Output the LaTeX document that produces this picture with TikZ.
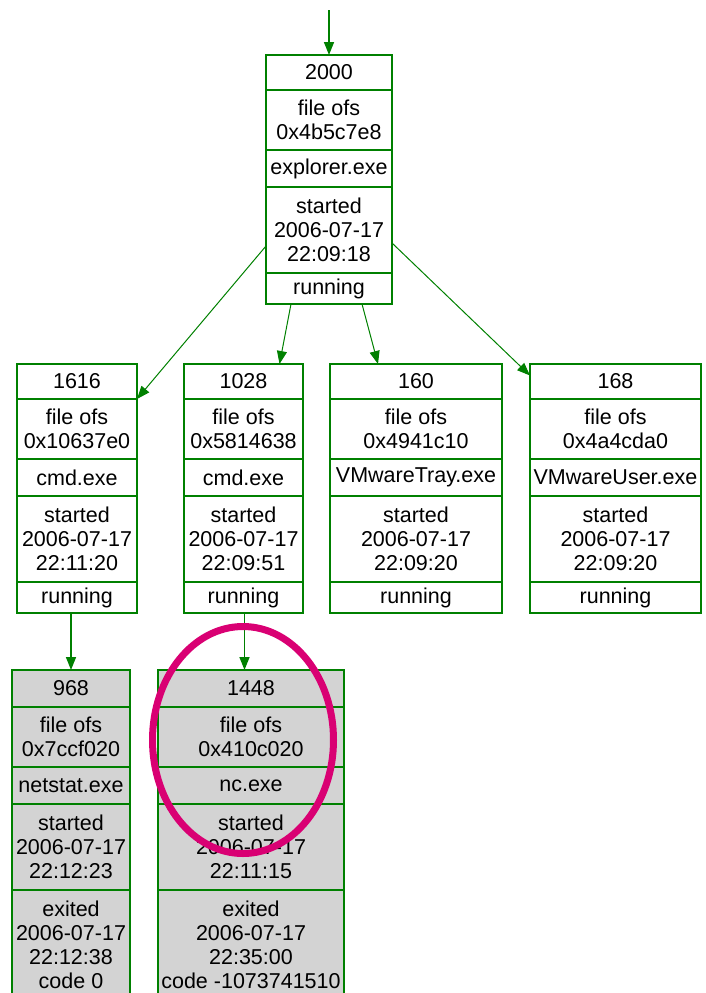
\documentclass[tikz,border=0pt]{standalone}
\usepackage{fontspec}
\setmainfont{Liberation Sans}
\usetikzlibrary{arrows.meta,positioning,shapes.geometric}
\definecolor{procgreen}{RGB}{0,128,0}
\definecolor{exitgray}{RGB}{211,211,211}
\definecolor{markpink}{RGB}{217,0,115}

\begin{document}
\begin{tikzpicture}[
  x=1pt, y=-1pt,
  procfield/.style={draw=procgreen, line width=1.5pt, outer sep=0pt, inner sep=1pt, align=center,
    minimum height=#1, font=\fontsize{21.5}{23.8}\selectfont},
  procfield/.default=35pt,
  exitedproc/.style={every node/.append style={fill=exitgray}},
  link/.style={-{Triangle[length=13pt, width=10pt]}, draw=procgreen, line width=1pt},
  hilite/.style={ellipse, draw=markpink, line width=7pt, minimum width=181pt, minimum height=227pt}
]
  \useasboundingbox (0,0) rectangle (706,993);
  \clip (0,0) rectangle (706,993);

  \coordinate (entry) at (329,10);

  % explorer
  \begin{scope}[every node/.append style={minimum width=126pt}]
    \node[procfield] (p2000) at (329,72.5) {2000};
    \node[procfield=60pt, below=0pt of p2000] (p2000o) {file ofs\\0x4b5c7e8};
    \node[procfield=37pt, below=0pt of p2000o] (p2000x) {explorer.exe};
    \node[procfield=86pt, below=0pt of p2000x] (p2000t) {started\\2006-07-17\\22:09:18};
    \node[procfield=31pt, below=0pt of p2000t] (p2000r) {running};
  \end{scope}

  % children of explorer
  \begin{scope}[every node/.append style={minimum width=120pt}]
    \node[procfield] (p1616) at (77,381.5) {1616};
    \node[procfield=60pt, below=0pt of p1616] (p1616o) {file ofs\\0x10637e0};
    \node[procfield=37pt, below=0pt of p1616o] (p1616x) {cmd.exe};
    \node[procfield=86pt, below=0pt of p1616x] (p1616t) {started\\2006-07-17\\22:11:20};
    \node[procfield=31pt, below=0pt of p1616t] (p1616r) {running};
  \end{scope}

  \begin{scope}[every node/.append style={minimum width=119pt}]
    \node[procfield] (p1028) at (243.5,381.5) {1028};
    \node[procfield=60pt, below=0pt of p1028] (p1028o) {file ofs\\0x5814638};
    \node[procfield=37pt, below=0pt of p1028o] (p1028x) {cmd.exe};
    \node[procfield=86pt, below=0pt of p1028x] (p1028t) {started\\2006-07-17\\22:09:51};
    \node[procfield=31pt, below=0pt of p1028t] (p1028r) {running};
  \end{scope}

  \begin{scope}[every node/.append style={minimum width=172pt}]
    \node[procfield] (p160) at (416,381.5) {160};
    \node[procfield=60pt, below=0pt of p160] (p160o) {file ofs\\0x4941c10};
    \node[procfield=37pt, below=0pt of p160o] (p160x) {VMwareTray.exe};
    \node[procfield=86pt, below=0pt of p160x] (p160t) {started\\2006-07-17\\22:09:20};
    \node[procfield=31pt, below=0pt of p160t] (p160r) {running};
  \end{scope}

  \begin{scope}[every node/.append style={minimum width=171pt}]
    \node[procfield] (p168) at (615.5,381.5) {168};
    \node[procfield=60pt, below=0pt of p168] (p168o) {file ofs\\0x4a4cda0};
    \node[procfield=37pt, below=0pt of p168o] (p168x) {VMwareUser.exe};
    \node[procfield=86pt, below=0pt of p168x] (p168t) {started\\2006-07-17\\22:09:20};
    \node[procfield=31pt, below=0pt of p168t] (p168r) {running};
  \end{scope}

  % exited processes
  \begin{scope}[exitedproc, every node/.append style={minimum width=118pt}]
    \node[procfield=37pt] (p968) at (71,688.5) {968};
    \node[procfield=60pt, below=0pt of p968] (p968o) {file ofs\\0x7ccf020};
    \node[procfield=37pt, below=0pt of p968o] (p968x) {netstat.exe};
    \node[procfield=86pt, below=0pt of p968x] (p968t) {started\\2006-07-17\\22:12:23};
    \node[procfield=110pt, below=0pt of p968t] (p968e) {exited\\2006-07-17\\22:12:38\\code 0};
  \end{scope}

  \begin{scope}[exitedproc, every node/.append style={minimum width=186pt}]
    \node[procfield=37pt] (p1448) at (251,688.5) {1448};
    \node[procfield=60pt, below=0pt of p1448] (p1448o) {file ofs\\0x410c020};
    \node[procfield=37pt, below=0pt of p1448o] (p1448x) {nc.exe};
    \node[procfield=86pt, below=0pt of p1448x] (p1448t) {started\\2006-07-17\\22:11:15};
    \node[procfield=110pt, below=0pt of p1448t] (p1448e) {exited\\2006-07-17\\22:35:00\\code -1073741510};
  \end{scope}

  \draw[link, line width=1.5pt] (entry) -- (p2000.north);
  \draw[link] ([yshift=-16pt]p2000t.west) -- (p1616.south east);
  \draw[link] ([xshift=-38pt]p2000r.south) -- ([xshift=36pt]p1028.north);
  \draw[link] ([xshift=33pt]p2000r.south) -- ([xshift=-38pt]p160.north);
  \draw[link] ([yshift=-13pt]p2000t.east) -- ([yshift=6pt]p168.west);
  \draw[link, line width=1.5pt] (p968.north |- p1616r.south) -- (p968.north);
  \draw[link, line width=1.5pt] ([xshift=1pt]p1028r.south) -- ([xshift=1pt]p1028r.south |- p1448.north);

  \node[hilite] (ncmark) at (243,740) {};
\end{tikzpicture}
\end{document}
